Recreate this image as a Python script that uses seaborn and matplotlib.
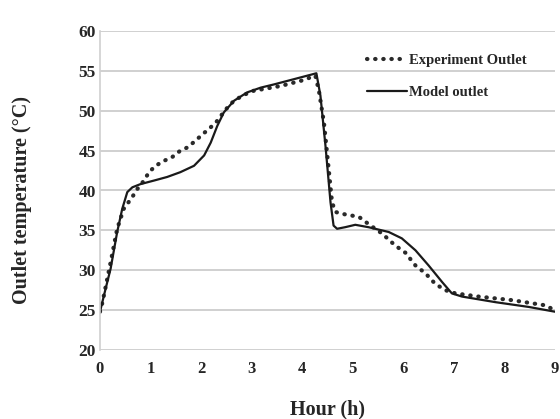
import matplotlib
matplotlib.use("Agg")
import matplotlib.pyplot as plt
import seaborn as sns
import pandas as pd

# Data
model_hour = [0.0, 0.1, 0.21, 0.34, 0.44, 0.54, 0.64, 0.8, 1.07, 1.33, 1.59, 1.86, 2.06, 2.19,
              2.32, 2.45, 2.65, 2.91, 3.18, 3.44, 3.8, 4.1, 4.28, 4.36, 4.46, 4.56, 4.62, 4.69,
              4.85, 5.05, 5.31, 5.71, 5.97, 6.24, 6.5, 6.77, 6.96, 7.16, 7.82, 8.48, 9.0]
model_temp = [24.8, 27.4, 30.2, 34.8, 37.7, 39.8, 40.4, 40.8, 41.25, 41.7, 42.3, 43.1, 44.4, 46.0,
              48.1, 49.8, 51.25, 52.3, 52.9, 53.3, 53.9, 54.4, 54.7, 51.9, 45.6, 38.5, 35.6, 35.2,
              35.4, 35.7, 35.4, 34.8, 34.0, 32.5, 30.6, 28.5, 27.1, 26.7, 26.0, 25.4, 24.8]

exp_hour = [0.0, 0.05, 0.21, 0.34, 0.47, 0.64, 0.74, 0.87, 0.97, 1.1, 1.26, 1.43, 1.59, 1.73,
            1.89, 2.02, 2.15, 2.29, 2.42, 2.52, 2.65, 2.85, 3.04, 3.57, 4.0, 4.26, 4.33, 4.43,
            4.53, 4.59, 4.66, 4.85, 5.12, 5.31, 5.58, 5.84, 6.04, 6.24, 6.44, 6.63, 6.83, 7.03,
            7.49, 8.15, 8.81, 8.93]
exp_temp = [24.8, 26.0, 31.0, 35.2, 37.7, 39.2, 40.2, 41.25, 42.3, 43.1, 43.7, 44.2, 45.0, 45.4,
            46.25, 47.0, 47.7, 48.5, 49.6, 50.4, 51.25, 52.0, 52.5, 53.1, 53.8, 54.4, 52.5, 48.5,
            42.3, 38.5, 37.3, 37.0, 36.7, 35.8, 34.6, 33.1, 32.2, 30.6, 29.6, 28.3, 27.5, 27.1,
            26.7, 26.25, 25.6, 25.2]

x_ticks = [0, 1, 2, 3, 4, 5, 6, 7, 8, 9]
y_ticks = [20, 25, 30, 35, 40, 45, 50, 55, 60]

sns.set_theme(style="white")
plt.rcParams['font.family'] = ['Liberation Serif', 'DejaVu Serif']

fig = plt.figure(figsize=(5.6, 4.19), dpi=100)
ax = fig.add_axes([100/560, 1-350/419, 455/560, 319/419])

exp_df = pd.DataFrame({"hour": exp_hour, "temp": exp_temp})
mod_df = pd.DataFrame({"hour": model_hour, "temp": model_temp})

sns.lineplot(data=exp_df, x="hour", y="temp", ax=ax, sort=False, color="#2a2a2a",
             linewidth=3.0, linestyle=(0, (0.1, 1.85)), dash_capstyle="round",
             label="Experiment Outlet")
sns.lineplot(data=mod_df, x="hour", y="temp", ax=ax, sort=False, color="#1a1a1a",
             linewidth=1.6, label="Model outlet")

ax.set_xlim(0, 9)
ax.set_ylim(20, 60)
ax.set_xticks(x_ticks)
ax.set_yticks(y_ticks)
ax.set_xticklabels([str(t) for t in x_ticks], fontweight="bold", fontsize=12)
ax.set_yticklabels([str(t) for t in y_ticks], fontweight="bold", fontsize=12.5)
ax.tick_params(axis="both", length=0, pad=3)
ax.tick_params(axis="x", pad=8)

ax.yaxis.grid(True, color="#c8c8c8", linewidth=1.2)
ax.xaxis.grid(False)
for name, sp in ax.spines.items():
    sp.set_visible(False)
ax.spines["left"].set_visible(True)
ax.spines["left"].set_color("#d0d0d0")
ax.spines["left"].set_linewidth(1.2)

ax.set_xlabel("Hour (h)", fontweight="bold", fontsize=14.5, labelpad=16)
ax.set_ylabel("Outlet temperature (°C)", fontweight="bold", fontsize=14.5)
ax.yaxis.set_label_coords(-0.15, 0.47)

leg = ax.legend(loc="center left", bbox_to_anchor=(367/560, 1-76.5/419),
                bbox_transform=fig.transFigure, frameon=False, borderpad=0, borderaxespad=0,
                prop={"family": "Liberation Serif", "weight": "bold", "size": 10.5},
                handlelength=2.75, labelspacing=1.25, handletextpad=0.15)

fig.savefig("out.png", dpi=100)
